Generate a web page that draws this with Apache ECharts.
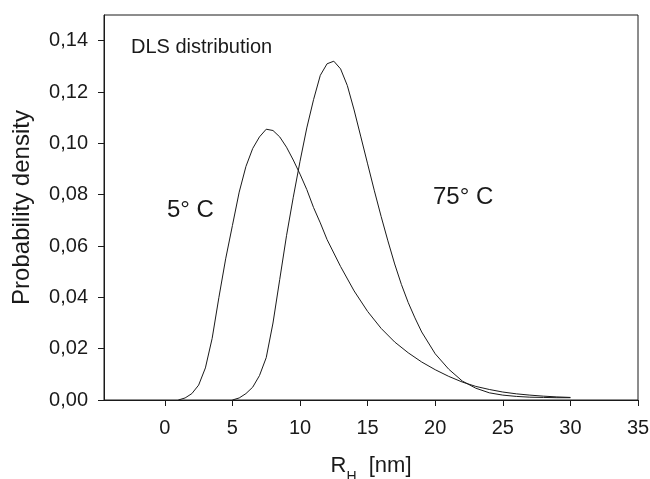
<!DOCTYPE html>
<html>
<head>
<meta charset="utf-8">
<script src="https://cdn.jsdelivr.net/npm/echarts@6/dist/echarts.min.js"></script>
<style>
  html, body { margin: 0; padding: 0; background: #fff; }
  #chart { width: 650px; height: 479px; }
</style>
</head>
<body>
<div id="chart"></div>
<script>
// 5 °C curve
const x5 = [1, 1.5, 2, 2.5, 3, 3.5, 4, 4.5, 5, 5.5, 6, 6.5, 7, 7.5, 8, 8.5, 9, 9.5, 10, 10.5, 11, 11.5, 12, 13, 14, 15, 16, 17, 18, 19, 20, 21, 22, 23, 24, 25, 26, 27, 28, 29, 30]
const y5 = [0, 0.0008, 0.0025, 0.0058, 0.0125, 0.024, 0.040, 0.055, 0.068, 0.081, 0.091, 0.098, 0.1025, 0.1055, 0.105, 0.1025, 0.0985, 0.0935, 0.088, 0.082, 0.075, 0.069, 0.0625, 0.052, 0.0425, 0.0345, 0.0279, 0.0226, 0.0184, 0.0148, 0.0118, 0.0092, 0.0070, 0.0053, 0.0041, 0.0031, 0.0024, 0.0019, 0.0015, 0.0012, 0.001]
// 75 °C curve
const x75 = [5, 5.5, 6, 6.5, 7, 7.5, 8, 8.5, 9, 9.5, 10, 10.5, 11, 11.5, 12, 12.5, 13, 13.5, 14, 14.5, 15, 15.5, 16, 16.5, 17, 17.5, 18, 18.5, 19, 20, 21, 22, 23, 24, 25, 26, 27, 28, 29, 30]
const y75 = [0, 0.0008, 0.0025, 0.005, 0.0095, 0.0165, 0.030, 0.047, 0.064, 0.079, 0.093, 0.106, 0.117, 0.1265, 0.131, 0.132, 0.129, 0.1225, 0.113, 0.1025, 0.092, 0.0815, 0.0715, 0.062, 0.053, 0.045, 0.038, 0.032, 0.0265, 0.018, 0.012, 0.0074, 0.0046, 0.0028, 0.0019, 0.0014, 0.0011, 0.001, 0.0009, 0.0009]

const xTicks = [0, 5, 10, 15, 20, 25, 30, 35]
const yTicks = [0, 0.02, 0.04, 0.06, 0.08, 0.10, 0.12, 0.14]

const pairs = (xs, ys) => xs.map((x, i) => [x, ys[i]])

const chart = echarts.init(document.getElementById('chart'))
const font = 'Liberation Sans, Arial, sans-serif'
const ink = '#1a1a1a'
const option = {
  animation: false,
  grid: {
    left: 104,
    right: 12,
    top: 15,
    bottom: 79,
    outerBoundsMode: 'none',
    containLabel: false,
    show: true,
    borderColor: ink,
    borderWidth: 1
  },
  xAxis: {
    type: 'value',
    min: -4.5,
    max: 35,
    name: '{r|R}{s|H}{r|  [nm]}',
    nameLocation: 'middle',
    nameGap: 55,
    nameTextStyle: {
      rich: {
        r: { fontFamily: font, fontSize: 22, color: ink },
        s: { fontFamily: font, fontSize: 14, color: ink, verticalAlign: 'bottom', padding: [0, 0, -7, 0] }
      }
    },
    axisLine: { onZero: false, lineStyle: { color: ink, width: 1 } },
    axisTick: { show: true, length: 6, customValues: xTicks, lineStyle: { color: ink } },
    axisLabel: {
      customValues: xTicks,
      margin: 18,
      fontFamily: font,
      fontSize: 20,
      color: ink
    },
    splitLine: { show: false }
  },
  yAxis: {
    type: 'value',
    min: 0,
    max: 0.15,
    name: 'Probability density',
    nameLocation: 'middle',
    nameGap: 70,
    nameTextStyle: { fontFamily: font, fontSize: 24, color: ink },
    axisLine: { show: true, onZero: false, lineStyle: { color: ink, width: 1 } },
    axisTick: { show: true, length: 6, customValues: yTicks, lineStyle: { color: ink } },
    axisLabel: {
      customValues: yTicks,
      margin: 16,
      fontFamily: font,
      fontSize: 20,
      color: ink,
      formatter: v => v.toFixed(2).replace('.', ',')
    },
    splitLine: { show: false }
  },
  graphic: [
    { type: 'text', left: 131, top: 37, style: { text: 'DLS distribution', font: '20px ' + font, fill: ink } },
    { type: 'text', left: 167, top: 198, style: { text: '5° C', font: '24px ' + font, fill: ink } },
    { type: 'text', left: 433, top: 185, style: { text: '75° C', font: '24px ' + font, fill: ink } }
  ],
  series: [
    {
      name: '5° C',
      type: 'line',
      data: pairs(x5, y5),
      showSymbol: false,
      lineStyle: { color: ink, width: 1 }
    },
    {
      name: '75° C',
      type: 'line',
      data: pairs(x75, y75),
      showSymbol: false,
      lineStyle: { color: ink, width: 1 }
    }
  ]
}
chart.setOption(option)
</script>
</body>
</html>
